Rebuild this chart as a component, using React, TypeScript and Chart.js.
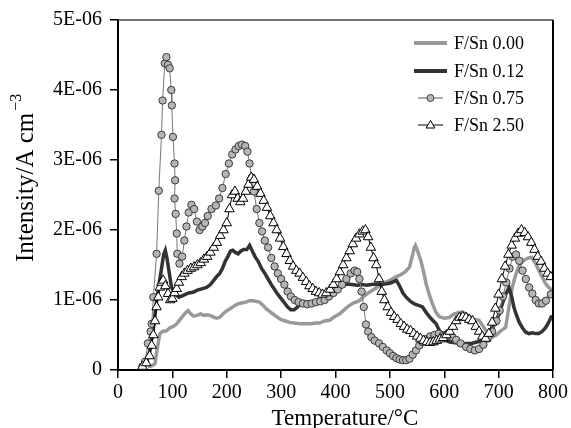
import React, { useEffect, useRef } from "react";
import { Chart, registerables } from "chart.js";

Chart.register(...registerables);

// Intensity values are in units of 1E-06 A cm^-3
const temp000 = [55, 62, 68, 72, 77, 82, 89, 95, 101, 108, 114, 120, 125, 129, 134, 139, 145, 152, 158, 164, 169, 175, 181, 187, 193, 199, 205, 211, 217, 223, 229, 235, 242, 248, 254, 260, 266, 272, 278, 285, 292, 300, 308, 316, 324, 334, 344, 354, 364, 371, 380, 389, 398, 407, 416, 425, 434, 444, 450, 460, 470, 480, 490, 500, 511, 520, 528, 536, 541, 545, 547, 551, 557, 562, 567, 572, 578, 585, 591, 600, 609, 618, 625, 633, 640, 648, 656, 664, 672, 680, 688, 696, 704, 713, 719, 725, 731, 737, 743, 749, 755, 761, 768, 774, 780, 786, 792, 798];
const int000 = [0.05, 0.06, 0.09, 0.3, 0.52, 0.55, 0.56, 0.6, 0.62, 0.66, 0.72, 0.78, 0.82, 0.85, 0.8, 0.77, 0.78, 0.8, 0.78, 0.79, 0.78, 0.76, 0.74, 0.75, 0.8, 0.84, 0.87, 0.9, 0.93, 0.95, 0.96, 0.97, 0.99, 0.99, 0.98, 0.97, 0.93, 0.88, 0.84, 0.8, 0.76, 0.72, 0.7, 0.68, 0.67, 0.66, 0.66, 0.66, 0.67, 0.67, 0.7, 0.71, 0.76, 0.8, 0.86, 0.92, 0.96, 0.99, 1.04, 1.1, 1.15, 1.2, 1.25, 1.28, 1.33, 1.36, 1.4, 1.47, 1.62, 1.75, 1.78, 1.7, 1.56, 1.4, 1.22, 1.09, 0.95, 0.82, 0.76, 0.74, 0.75, 0.8, 0.82, 0.83, 0.8, 0.76, 0.72, 0.71, 0.62, 0.52, 0.47, 0.5, 0.56, 0.61, 0.9, 1.18, 1.35, 1.48, 1.54, 1.58, 1.6, 1.61, 1.52, 1.42, 1.33, 1.24, 1.18, 1.14];

const temp012 = [40, 50, 58, 65, 71, 76, 80, 84, 87, 90, 94, 98, 101, 106, 112, 118, 124, 130, 138, 146, 154, 163, 170, 176, 182, 187, 192, 197, 202, 207, 211, 216, 221, 226, 231, 237, 242, 247, 252, 258, 264, 270, 276, 282, 288, 294, 300, 306, 312, 318, 324, 330, 336, 344, 352, 360, 370, 380, 389, 398, 406, 414, 420, 430, 440, 450, 457, 466, 476, 486, 493, 500, 506, 512, 518, 524, 530, 538, 546, 554, 560, 567, 574, 580, 585, 590, 596, 603, 610, 620, 630, 640, 650, 660, 670, 680, 688, 695, 701, 707, 713, 719, 724, 728, 732, 738, 744, 750, 756, 762, 768, 774, 780, 786, 792, 798];
const int012 = [0.06, 0.1, 0.25, 0.6, 0.99, 1.25, 1.45, 1.65, 1.71, 1.6, 1.4, 1.2, 1.14, 1.08, 1.04, 1.06, 1.08, 1.1, 1.11, 1.14, 1.16, 1.18, 1.22, 1.28, 1.34, 1.38, 1.45, 1.55, 1.62, 1.7, 1.71, 1.68, 1.66, 1.7, 1.72, 1.72, 1.78, 1.7, 1.62, 1.55, 1.45, 1.38, 1.3, 1.22, 1.15, 1.08, 1.02, 0.96, 0.9, 0.86, 0.86, 0.9, 0.95, 0.97, 0.97, 0.98, 1.0, 1.02, 1.04, 1.1, 1.15, 1.2, 1.23, 1.22, 1.21, 1.22, 1.21, 1.22, 1.23, 1.22, 1.23, 1.24, 1.26, 1.28, 1.2, 1.1, 1.04, 0.98, 0.94, 0.92, 0.9, 0.82, 0.75, 0.7, 0.66, 0.58, 0.5, 0.42, 0.4, 0.39, 0.38, 0.38, 0.38, 0.4, 0.42, 0.48, 0.58, 0.7, 0.8, 0.95, 1.08, 1.18, 1.05, 0.9, 0.8, 0.68, 0.6, 0.54, 0.52, 0.53, 0.52, 0.52, 0.55, 0.6, 0.68, 0.78];

const temp075 = [45, 50, 55, 60, 62, 65, 71, 75, 80, 82, 86, 89, 92, 95, 98, 99, 101, 104, 105, 104, 106, 108, 109, 113, 118, 122, 126, 130, 135, 140, 145, 150, 155, 160, 165, 172, 180, 186, 192, 198, 204, 210, 216, 222, 228, 234, 238, 242, 246, 250, 255, 260, 265, 270, 276, 282, 288, 294, 300, 306, 312, 318, 325, 332, 340, 348, 356, 364, 372, 380, 388, 396, 404, 412, 420, 428, 435, 440, 444, 448, 452, 456, 460, 466, 472, 480, 487, 494, 500, 506, 512, 518, 524, 530, 536, 542, 548, 554, 560, 566, 574, 582, 590, 598, 606, 615, 622, 630, 640, 648, 656, 664, 672, 680, 688, 696, 702, 708, 714, 720, 726, 732, 738, 744, 750, 756, 762, 768, 774, 780, 787, 796];
const int075 = [0.05, 0.12, 0.38, 0.55, 0.66, 1.04, 1.66, 2.56, 3.36, 3.85, 4.38, 4.47, 4.36, 4.31, 4.0, 3.78, 3.33, 2.95, 2.71, 2.45, 2.23, 1.95, 1.66, 1.52, 1.62, 1.85, 2.05, 2.25, 2.36, 2.3, 2.12, 2.0, 2.05, 2.1, 2.2, 2.3, 2.35, 2.45, 2.6, 2.8, 2.95, 3.08, 3.15, 3.2, 3.22, 3.2, 3.12, 2.95, 2.75, 2.55, 2.3, 2.1, 1.98, 1.85, 1.75, 1.6, 1.48, 1.38, 1.3, 1.22, 1.12, 1.05, 1.0, 0.97, 0.95, 0.94, 0.95, 0.97, 0.98, 1.0, 1.05, 1.1, 1.15, 1.22, 1.3, 1.38, 1.42, 1.4, 1.3, 1.12, 0.9, 0.65, 0.55, 0.47, 0.42, 0.38, 0.33, 0.28, 0.24, 0.2, 0.17, 0.15, 0.14, 0.14, 0.16, 0.22, 0.28, 0.35, 0.4, 0.44, 0.48, 0.5, 0.52, 0.5, 0.48, 0.47, 0.43, 0.38, 0.33, 0.3, 0.28, 0.3, 0.36, 0.45, 0.55, 0.7, 0.85, 1.05, 1.25, 1.45, 1.62, 1.65, 1.56, 1.42, 1.3, 1.18, 1.09, 1.0, 0.95, 0.95, 0.99, 1.08];

const temp250 = [45, 52, 58, 62, 65, 68, 71, 74, 77, 80, 83, 87, 92, 96, 100, 104, 108, 112, 117, 122, 128, 134, 140, 146, 152, 158, 164, 170, 176, 182, 188, 194, 200, 205, 210, 215, 220, 225, 230, 235, 240, 245, 250, 256, 262, 268, 274, 280, 286, 292, 298, 304, 310, 316, 322, 328, 334, 340, 346, 352, 358, 364, 370, 376, 383, 390, 396, 402, 408, 414, 420, 426, 432, 438, 444, 450, 455, 460, 465, 470, 475, 480, 485, 490, 496, 502, 508, 514, 520, 526, 532, 538, 544, 550, 556, 562, 568, 574, 580, 586, 592, 598, 604, 610, 616, 622, 628, 634, 640, 646, 652, 658, 664, 670, 676, 682, 688, 694, 700, 706, 712, 718, 724, 730, 736, 742, 748, 754, 760, 766, 772, 778, 784, 790, 796];
const int250 = [0.05, 0.1, 0.2, 0.35, 0.5, 0.7, 0.9, 1.04, 1.18, 1.25, 1.28, 1.2, 1.09, 1.0, 1.02, 1.1, 1.16, 1.25, 1.33, 1.38, 1.42, 1.45, 1.47, 1.5, 1.53, 1.58, 1.62, 1.68, 1.75, 1.82, 1.92, 2.0, 2.1, 2.3, 2.5, 2.55, 2.45, 2.4, 2.45, 2.55, 2.65, 2.75, 2.72, 2.62, 2.52, 2.42, 2.32, 2.2, 2.1, 2.0, 1.88, 1.76, 1.66, 1.56, 1.48, 1.42, 1.38, 1.32, 1.26, 1.2, 1.16, 1.12, 1.1, 1.08, 1.1, 1.15, 1.22, 1.3, 1.4, 1.5, 1.6, 1.7, 1.8, 1.88, 1.94, 1.98, 2.0, 1.9, 1.75, 1.6, 1.5, 1.3, 1.12, 1.0, 0.9, 0.82, 0.76, 0.72, 0.66, 0.62, 0.58, 0.56, 0.52, 0.48, 0.45, 0.42, 0.4, 0.39, 0.4, 0.42, 0.44, 0.46, 0.5, 0.55, 0.62, 0.7, 0.75, 0.76, 0.75, 0.72, 0.7, 0.62, 0.55, 0.48, 0.45, 0.52, 0.68, 0.88, 1.08, 1.3, 1.48, 1.65, 1.78, 1.88, 1.95, 2.0, 1.96, 1.9, 1.82, 1.72, 1.62, 1.55, 1.45, 1.38, 1.33];

const seriesLabels = ["F/Sn 0.00", "F/Sn 0.12", "F/Sn 0.75", "F/Sn 2.50"];
const xTicks = [0, 100, 200, 300, 400, 500, 600, 700, 800];
const yTickLabels = ["0", "1E-06", "2E-06", "3E-06", "4E-06", "5E-06"];

const FONT = "'Liberation Serif', 'Times New Roman', serif";

const pts = (xs: number[], ys: number[]) => xs.map((x, i) => ({ x, y: ys[i] }));

export default function App() {
  const ref = useRef<HTMLCanvasElement | null>(null);

  useEffect(() => {
    const canvas = ref.current;
    if (!canvas) return;

    const overlay = {
      id: "overlay",
      afterDraw(chart: any) {
        const ctx = chart.ctx as CanvasRenderingContext2D;
        const a = chart.chartArea;
        ctx.save();
        ctx.strokeStyle = "#444";
        ctx.lineWidth = 1.5;
        ctx.beginPath();
        ctx.moveTo(a.left, a.top);
        ctx.lineTo(a.right, a.top);
        ctx.stroke();
        ctx.strokeStyle = "#000";
        ctx.lineWidth = 2;
        ctx.beginPath();
        ctx.moveTo(a.right, a.top);
        ctx.lineTo(a.right, a.bottom);
        ctx.stroke();

        ctx.fillStyle = "#000";
        ctx.font = `23px ${FONT}`;
        ctx.textAlign = "center";
        ctx.textBaseline = "alphabetic";
        ctx.fillText("Temperature/°C", 345, 425);

        ctx.save();
        ctx.translate(32.5, 262);
        ctx.rotate(-Math.PI / 2);
        ctx.textAlign = "left";
        ctx.font = `25px ${FONT}`;
        const main = "Intensity/A cm";
        ctx.fillText(main, 0, 0);
        const w = ctx.measureText(main).width;
        ctx.font = `16px ${FONT}`;
        ctx.fillText("\u22123", w + 2, -12);
        ctx.restore();

        const rows = [43, 71, 98, 125];
        const x0 = 414, x1 = 447, tx = 454;
        ctx.font = `18px ${FONT}`;
        ctx.textBaseline = "middle";
        ctx.textAlign = "left";
        rows.forEach((y, i) => {
          ctx.save();
          if (i === 0 || i === 1) {
            ctx.strokeStyle = i === 0 ? "#999" : "#333";
            ctx.lineWidth = 4;
            ctx.beginPath();
            ctx.moveTo(x0, y);
            ctx.lineTo(x1, y);
            ctx.stroke();
          } else {
            ctx.strokeStyle = i === 2 ? "#555" : "#000";
            ctx.lineWidth = 1;
            ctx.beginPath();
            ctx.moveTo(x0 + 4, y);
            ctx.lineTo(x1 - 4, y);
            ctx.stroke();
            const cx = (x0 + x1) / 2;
            if (i === 2) {
              ctx.fillStyle = "#b5b5b5";
              ctx.strokeStyle = "#444";
              ctx.beginPath();
              ctx.arc(cx, y, 3.5, 0, Math.PI * 2);
              ctx.fill();
              ctx.stroke();
            } else {
              ctx.fillStyle = "#fff";
              ctx.strokeStyle = "#000";
              ctx.beginPath();
              ctx.moveTo(cx, y - 4.5);
              ctx.lineTo(cx + 4.5, y + 3);
              ctx.lineTo(cx - 4.5, y + 3);
              ctx.closePath();
              ctx.fill();
              ctx.stroke();
            }
          }
          ctx.restore();
          ctx.fillStyle = "#000";
          ctx.fillText(seriesLabels[i], tx, y + 1);
        });
        ctx.restore();
      },
    };

    const chart = new Chart(canvas, {
      type: "line",
      data: {
        datasets: [
          {
            label: seriesLabels[0],
            data: pts(temp000, int000),
            borderColor: "#999999",
            borderWidth: 3.5,
            pointRadius: 0,
            order: 3,
          },
          {
            label: seriesLabels[1],
            data: pts(temp012, int012),
            borderColor: "#333333",
            borderWidth: 3.5,
            pointRadius: 0,
            order: 2,
          },
          {
            label: seriesLabels[2],
            data: pts(temp075, int075),
            borderColor: "#777777",
            borderWidth: 1,
            pointRadius: 3.7,
            pointStyle: "circle",
            pointBackgroundColor: "#b5b5b5",
            pointBorderColor: "#3a3a3a",
            pointBorderWidth: 1,
            order: 1,
          },
          {
            label: seriesLabels[3],
            data: pts(temp250, int250),
            borderColor: "#000000",
            borderWidth: 1,
            pointRadius: 5.5,
            pointStyle: "triangle",
            pointBackgroundColor: "#ffffff",
            pointBorderColor: "#000000",
            pointBorderWidth: 1,
            order: 0,
          },
        ] as any,
      },
      options: {
        responsive: false,
        animation: false,
        layout: { padding: { left: 0, top: 20, right: 17, bottom: 0 } },
        plugins: { legend: { display: false }, tooltip: { enabled: false } },
        scales: {
          x: {
            type: "linear",
            min: 0,
            max: 800,
            afterBuildTicks: (s: any) => {
              s.ticks = xTicks.map((v) => ({ value: v }));
            },
            afterFit: (s: any) => {
              s.height = 58;
            },
            ticks: {
              font: { family: FONT, size: 20 },
              color: "#000",
              padding: 3,
              maxRotation: 0,
              autoSkip: false,
            },
            grid: {
              display: true,
              drawOnChartArea: false,
              drawTicks: true,
              tickLength: 8,
              color: "#000",
              lineWidth: 1.5,
            },
            border: { display: true, color: "#000", width: 2 },
          },
          y: {
            type: "linear",
            min: 0,
            max: 5,
            afterBuildTicks: (s: any) => {
              s.ticks = yTickLabels.map((_, i) => ({ value: i }));
            },
            afterFit: (s: any) => {
              s.width = 118;
            },
            ticks: {
              font: { family: FONT, size: 20 },
              color: "#000",
              padding: 8,
              autoSkip: false,
              callback: (v: any) => yTickLabels[Math.round(Number(v))] ?? "",
            },
            grid: {
              display: true,
              drawOnChartArea: false,
              drawTicks: true,
              tickLength: 8,
              color: "#000",
              lineWidth: 1.5,
            },
            border: { display: true, color: "#000", width: 2 },
          },
        },
      } as any,
      plugins: [overlay],
    });

    return () => chart.destroy();
  }, []);

  return (
    <div style={{ position: "absolute", left: 0, top: 0, width: 571, height: 428, background: "#fff" }}>
      <canvas ref={ref} width={571} height={428} style={{ display: "block" }} />
    </div>
  );
}
